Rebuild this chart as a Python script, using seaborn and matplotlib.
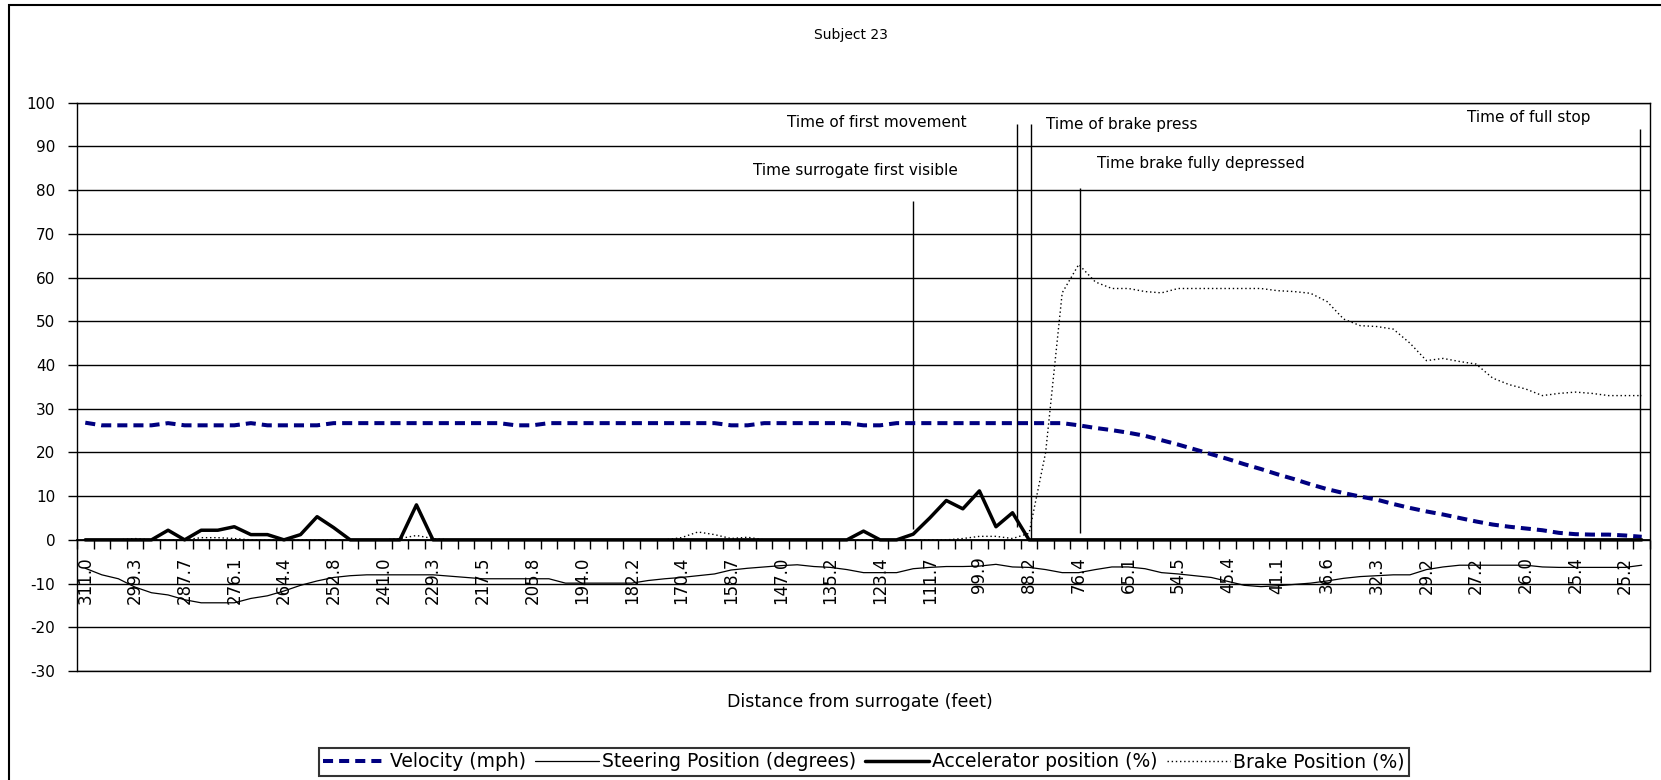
import numpy as np
import pandas as pd
import matplotlib
matplotlib.use("Agg")
import matplotlib.pyplot as plt
import matplotlib.patches as patches
import seaborn as sns

# x-axis tick labels (distance from surrogate, feet), one label every 3 samples
tick_labels = ["311.0", "299.3", "287.7", "276.1", "264.4", "252.8", "241.0", "229.3",
               "217.5", "205.8", "194.0", "182.2", "170.4", "158.7", "147.0", "135.2",
               "123.4", "111.7", "99.9", "88.2", "76.4", "65.1", "54.5", "45.4",
               "41.1", "36.6", "32.3", "29.2", "27.2", "26.0", "25.4", "25.2"]

velocity = [26.8, 26.2, 26.2, 26.2, 26.2, 26.7, 26.2, 26.2, 26.2, 26.2,
            26.7, 26.2, 26.2, 26.2, 26.2, 26.7, 26.7, 26.7, 26.7, 26.7,
            26.7, 26.7, 26.7, 26.7, 26.7, 26.7, 26.2, 26.2, 26.7, 26.7,
            26.7, 26.7, 26.7, 26.7, 26.7, 26.7, 26.7, 26.7, 26.7, 26.2,
            26.2, 26.7, 26.7, 26.7, 26.7, 26.7, 26.7, 26.2, 26.2, 26.7,
            26.7, 26.7, 26.7, 26.7, 26.7, 26.7, 26.7, 26.7, 26.7, 26.7,
            26.2, 25.6, 25.1, 24.5, 23.8, 22.8, 21.8, 20.7, 19.6, 18.5,
            17.3, 16.2, 15.0, 13.9, 12.7, 11.6, 10.7, 9.9, 9.2, 8.2,
            7.3, 6.5, 5.8, 5.0, 4.2, 3.5, 3.0, 2.6, 2.2, 1.6,
            1.3, 1.2, 1.2, 1.0, 0.7]

steering = [-6.5, -8.0, -8.9, -10.8, -12.1, -12.6, -13.7, -14.4, -14.4, -14.4,
            -13.4, -12.8, -11.7, -10.4, -9.4, -8.6, -8.2, -8.0, -8.0, -8.0,
            -8.0, -8.0, -8.3, -8.6, -8.9, -8.9, -8.9, -8.9, -8.9, -9.9,
            -9.9, -9.9, -9.9, -9.9, -9.3, -8.9, -8.6, -8.2, -7.8, -6.9,
            -6.5, -6.2, -5.9, -5.7, -6.1, -6.3, -6.8, -7.5, -7.5, -7.5,
            -6.6, -6.3, -6.1, -6.1, -6.0, -5.6, -6.2, -6.3, -6.8, -7.5,
            -7.5, -6.8, -6.2, -6.2, -6.6, -7.5, -7.8, -8.2, -8.6, -9.5,
            -10.4, -10.7, -10.5, -10.2, -9.9, -9.4, -8.8, -8.4, -8.2, -8.0,
            -8.0, -6.8, -6.2, -5.8, -5.8, -5.8, -5.8, -5.8, -6.2, -6.3,
            -6.3, -6.3, -6.3, -6.3, -5.8]

accelerator = [0, 0, 0, 0, 0, 2.2, 0, 2.2, 2.2, 3.0,
               1.2, 1.2, 0, 1.2, 5.3, 2.8, 0, 0, 0, 0,
               8.0, 0, 0, 0, 0, 0, 0, 0, 0, 0,
               0, 0, 0, 0, 0, 0, 0, 0, 0, 0,
               0, 0, 0, 0, 0, 0, 0, 2.0, 0, 0,
               1.3, 5.0, 9.0, 7.1, 11.2, 3.0, 6.2, 0, 0, 0,
               0, 0, 0, 0, 0, 0, 0, 0, 0, 0,
               0, 0, 0, 0, 0, 0, 0, 0, 0, 0,
               0, 0, 0, 0, 0, 0, 0, 0, 0, 0,
               0, 0, 0, 0, 0]

brake = [0, 0, 0, 0.3, 0, 0, 0, 0.5, 0.5, 0.3,
         0, 0, 0, 0, 0, 0, 0, 0, 0, 0.3,
         1.0, 0.3, 0, 0, 0, 0, 0, 0, 0, 0,
         0, 0, 0, 0, 0, 0, 0.5, 1.8, 1.2, 0.3,
         0.6, 0, 0, 0, 0, 0, 0, 0, 0, 0,
         0, 0, 0, 0.3, 0.8, 0.8, 0.3, 1.5, 20.0, 56.5,
         63.0, 59.0, 57.5, 57.5, 56.8, 56.5, 57.5, 57.5, 57.5, 57.5,
         57.5, 57.5, 57.0, 56.8, 56.4, 54.5, 50.5, 49.0, 48.8, 48.2,
         45.0, 41.0, 41.5, 40.8, 40.2, 37.0, 35.5, 34.5, 33.0, 33.5,
         33.8, 33.5, 33.0, 33.0, 33.0]

# event markers: sample position, top and bottom of the marker line
event_pos = [50.0, 56.3, 57.1, 60.1, 93.9]
event_top = [77.5, 95.1, 95.1, 80.4, 94.0]
event_bottom = [2.5, 3.0, 0.0, 1.5, 2.0]

df = pd.DataFrame({
    "idx": np.arange(len(velocity)),
    "velocity": velocity,
    "steering": steering,
    "accelerator": accelerator,
    "brake": brake,
})

sns.set_style("white")
plt.rcParams["font.family"] = ["DejaVu Sans"]
plt.rcParams["axes.unicode_minus"] = False
plt.rcParams["text.color"] = "black"
plt.rcParams["xtick.color"] = "black"
plt.rcParams["ytick.color"] = "black"

W, H = 1661, 780
fig = plt.figure(figsize=(W / 100, H / 100), dpi=100)
ax = fig.add_axes([77 / W, 109 / H, 1573 / W, 568.3 / H])

sns.lineplot(data=df, x="idx", y="velocity", ax=ax, color="#000080", linewidth=2.9,
             linestyle=(0, (2.5, 1.5)), label="Velocity (mph)", zorder=4)
sns.lineplot(data=df, x="idx", y="steering", ax=ax, color="black", linewidth=0.9,
             label="Steering Position (degrees)", zorder=4)
sns.lineplot(data=df, x="idx", y="accelerator", ax=ax, color="black", linewidth=2.5,
             label="Accelerator position (%)", zorder=5)
sns.lineplot(data=df, x="idx", y="brake", ax=ax, color="black", linewidth=1.0,
             linestyle=(0, (1, 2)), label="Brake Position (%)", zorder=4)
handles, labels = ax.get_legend_handles_labels()
ax.get_legend().remove()

ax.vlines(event_pos, event_bottom, event_top, color="black", linewidth=1.0, zorder=3)

ax.text(47.8, 95.4, "Time of first movement", ha="center", va="center", fontsize=11)
ax.text(46.5, 84.5, "Time surrogate first visible", ha="center", va="center", fontsize=11)
ax.text(62.6, 95.1, "Time of brake press", ha="center", va="center", fontsize=11)
ax.text(67.4, 86.0, "Time brake fully depressed", ha="center", va="center", fontsize=11)
ax.text(87.2, 96.6, "Time of full stop", ha="center", va="center", fontsize=11)

ax.set_xlim(-0.5, len(velocity) - 0.5)
ax.set_ylim(-30, 100)
ax.set_yticks(np.arange(-30, 101, 10))
ax.yaxis.grid(True, color="black", linewidth=1.0)
ax.axhline(-30, color="black", linewidth=1.0, clip_on=False, zorder=1)
ax.set_axisbelow(True)

ax.set_xticks(np.arange(0, len(velocity), 3))
ax.set_xticklabels(tick_labels)
ax.set_xticks(np.arange(-0.5, len(velocity), 1), minor=True)
ax.tick_params(axis="x", which="major", bottom=True, length=0, pad=12,
               labelrotation=90, labelsize=12)
ax.tick_params(axis="x", which="minor", bottom=True, length=6.5, width=1.0,
               direction="out", color="black")
ax.tick_params(axis="y", left=True, length=6.5, width=1.0, direction="out", pad=9,
               labelsize=11, color="black")

ax.spines["bottom"].set_position(("data", 0))
for s in ["left", "right", "top", "bottom"]:
    ax.spines[s].set_visible(True)
    ax.spines[s].set_color("black")
    ax.spines[s].set_linewidth(1.0)
ax.spines["bottom"].set_linewidth(1.3)
ax.set_xlabel("")
ax.set_ylabel("")

fig.text(851 / W, 1 - 35 / H, "Subject 23", ha="center", va="center", fontsize=10)
fig.text(860 / W, 1 - 702 / H, "Distance from surrogate (feet)", ha="center", va="center", fontsize=12.5)

leg = fig.legend(handles, labels, loc="lower center", bbox_to_anchor=(864 / W, 4 / H),
                 ncol=4, frameon=True, fancybox=False, edgecolor="black", fontsize=13.5,
                 handlelength=3.4, handletextpad=0.15, columnspacing=0.5, borderpad=0.25,
                 borderaxespad=0)
leg.get_frame().set_linewidth(1.5)

fig.add_artist(patches.Rectangle((9 / W, -0.05), 1.2, (H - 5) / H + 0.05,
                                 transform=fig.transFigure, fill=False,
                                 edgecolor="black", linewidth=1.5))

fig.savefig("out.png", dpi=100)
